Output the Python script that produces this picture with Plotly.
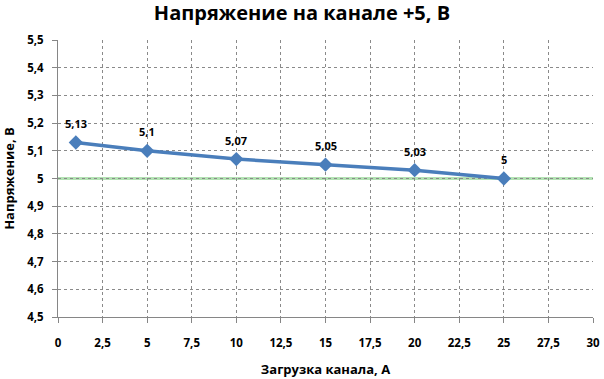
import plotly.graph_objects as go

load_a = [1, 5, 10, 15, 20, 25]
voltage = [5.13, 5.10, 5.07, 5.05, 5.03, 5.00]
labels = ["5,13", "5,1", "5,07", "5,05", "5,03", "5"]
nominal = 5.0

FONT = "'Open Sans', sans-serif"

fig = go.Figure()

fig.add_shape(type="line", xref="paper", yref="y", x0=0, x1=1, y0=nominal, y1=nominal,
              line=dict(color="#b3e2b3", width=3), layer="between")
fig.add_shape(type="line", xref="paper", yref="y", x0=0, x1=1, y0=nominal, y1=nominal,
              line=dict(color="#4cae4c", width=1, dash="dot"), layer="between")

fig.add_trace(go.Scatter(
    x=load_a, y=voltage, mode="lines+markers",
    line=dict(color="#4a7ebb", width=3.5),
    marker=dict(symbol="diamond", size=11, color="#4a7ebb"),
    hoverinfo="skip", showlegend=False,
))

for x, y, t in zip(load_a, voltage, labels):
    fig.add_annotation(x=x, y=y, text=t, showarrow=False, yshift=19,
                       font=dict(family=FONT, size=11, color="black", weight="bold"))

fig.update_layout(
    width=604, height=379,
    margin=dict(l=58, r=11, t=40, b=62, autoexpand=False),
    paper_bgcolor="white", plot_bgcolor="white",
    separators=", ",
    title=dict(text="<b>Напряжение на канале +5, В</b>", x=0.5, xanchor="center",
               yref="container", y=1 - 13 / 379, yanchor="middle",
               font=dict(family=FONT, size=20, color="black")),
    font=dict(family=FONT, color="black"),
)
fig.update_xaxes(
    range=[0, 30], dtick=2.5, tick0=0, automargin=False,
    showgrid=True, gridcolor="#8a8a8a", griddash="dot", gridwidth=1,
    showline=True, linecolor="#868686", linewidth=1,
    ticks="outside", ticklen=5, tickcolor="#868686",
    ticklabelstandoff=10,
    tickfont=dict(family=FONT, size=11.5, color="black", weight="bold"),
    title=dict(text="<b>Загрузка канала, А</b>", font=dict(family=FONT, size=13, color="black"), standoff=16),
    zeroline=False,
)
fig.update_yaxes(
    range=[4.5, 5.5], dtick=0.1, tick0=4.5, automargin=False,
    showgrid=True, gridcolor="#8a8a8a", griddash="dot", gridwidth=1,
    showline=True, linecolor="#868686", linewidth=1,
    ticks="outside", ticklen=5, tickcolor="#868686",
    ticklabelstandoff=6,
    tickfont=dict(family=FONT, size=11.5, color="black", weight="bold"),
    title=dict(text="<b>Напряжение, В</b>", font=dict(family=FONT, size=13, color="black"), standoff=10),
    zeroline=False,
)

fig.write_html("out.html", config={"displayModeBar": False},
               post_script="document.body.style.margin='0';")
